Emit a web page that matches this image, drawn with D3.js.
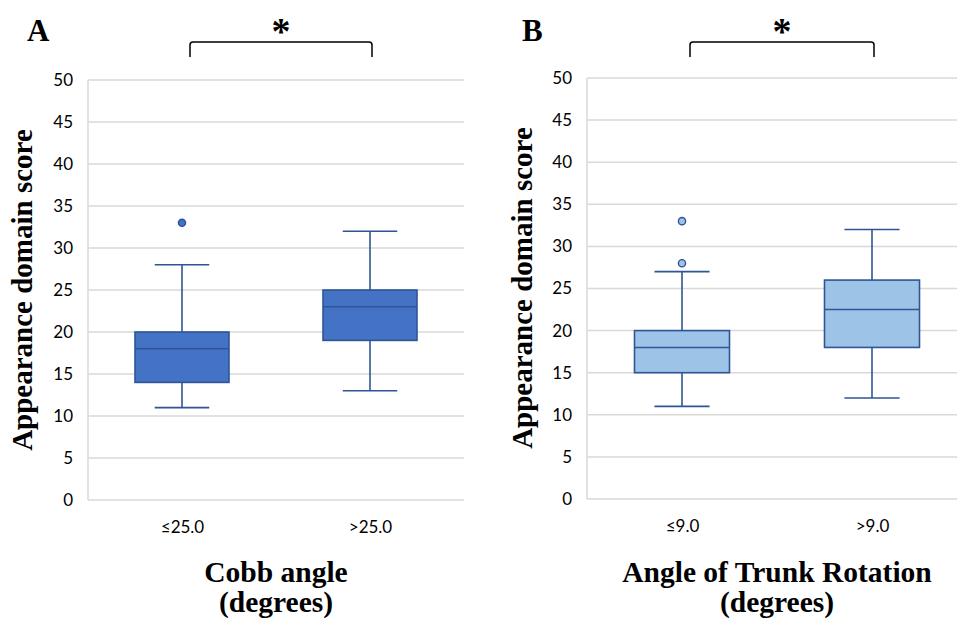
<!DOCTYPE html>
<html>
<head>
<meta charset="utf-8">
<script src="https://cdn.jsdelivr.net/npm/d3@7"></script>
<style>
  body { margin: 0; background: #fff; }
  svg { display: block; }
</style>
</head>
<body>
<div id="chart"></div>
<script>
"use strict";
// values: [min, q1, median, q3, max]
const categoriesA = ["≤25.0", ">25.0"];
const statsA = [[11, 14, 18, 20, 28], [13, 19, 23, 25, 32]];
const outliersA = [[33], []];
const categoriesB = ["≤9.0", ">9.0"];
const statsB = [[11, 15, 18, 20, 27], [12, 18, 22.5, 26, 32]];
const outliersB = [[28, 33], []];
const yTicks = [0, 5, 10, 15, 20, 25, 30, 35, 40, 45, 50];

const svgWidth = 957;
const svgHeight = 619;
const svg = d3.select("#chart")
    .append("svg")
    .attr("width", svgWidth)
    .attr("height", svgHeight);

const serif = "'Liberation Serif', 'Times New Roman', serif";
const sans = "Lato, 'Open Sans', sans-serif";

function drawPanel(opt) {
    const g = svg.append("g");
    const yScale = d3.scaleLinear().domain([0, 50]).range([opt.bottom, opt.top]);
    const xScale = d3.scalePoint().domain(opt.categories).range([opt.left, opt.right]).padding(0.5);
    const step = xScale.step();
    const boxW = step * 0.5;
    const capW = step * 0.145;

    // gridlines
    g.append("g")
        .selectAll("line")
        .data(yTicks)
        .enter()
        .append("line")
        .attr("x1", opt.left)
        .attr("x2", opt.right)
        .attr("y1", d => yScale(d))
        .attr("y2", d => yScale(d))
        .attr("stroke", "#d9d9d9")
        .attr("stroke-width", 1.5);
    g.append("line")
        .attr("x1", opt.left).attr("x2", opt.left)
        .attr("y1", yScale(0)).attr("y2", yScale(50))
        .attr("stroke", "#d9d9d9")
        .attr("stroke-width", 1.5);

    // y axis
    const yAxis = d3.axisLeft(yScale).tickValues(yTicks).tickSize(0).tickPadding(15);
    const ya = g.append("g")
        .attr("transform", `translate(${opt.left}, 0)`)
        .call(yAxis);
    ya.select(".domain").remove();
    ya.selectAll("text")
        .style("font-family", sans)
        .style("font-size", "17px")
        .attr("fill", "#000");

    // x axis labels
    const xAxis = d3.axisBottom(xScale).tickSize(0).tickPadding(21);
    const xa = g.append("g")
        .attr("transform", `translate(0, ${opt.bottom})`)
        .call(xAxis);
    xa.select(".domain").remove();
    xa.selectAll("text")
        .style("font-family", sans)
        .style("font-size", "17px")
        .attr("fill", "#000");

    // boxes
    const boxes = g.selectAll(".box")
        .data(opt.stats.map((s, i) => ({ cat: opt.categories[i], s: s, out: opt.outliers[i] })))
        .enter()
        .append("g")
        .attr("class", "box");
    boxes.append("line")
        .attr("x1", d => xScale(d.cat)).attr("x2", d => xScale(d.cat))
        .attr("y1", d => yScale(d.s[3])).attr("y2", d => yScale(d.s[4]))
        .attr("stroke", opt.stroke).attr("stroke-width", 1.6);
    boxes.append("line")
        .attr("x1", d => xScale(d.cat)).attr("x2", d => xScale(d.cat))
        .attr("y1", d => yScale(d.s[0])).attr("y2", d => yScale(d.s[1]))
        .attr("stroke", opt.stroke).attr("stroke-width", 1.6);
    [0, 4].forEach(k => {
        boxes.append("line")
            .attr("x1", d => xScale(d.cat) - capW).attr("x2", d => xScale(d.cat) + capW)
            .attr("y1", d => yScale(d.s[k])).attr("y2", d => yScale(d.s[k]))
            .attr("stroke", opt.stroke).attr("stroke-width", 1.6);
    });
    boxes.append("rect")
        .attr("x", d => xScale(d.cat) - boxW / 2)
        .attr("width", boxW)
        .attr("y", d => yScale(d.s[3]))
        .attr("height", d => yScale(d.s[1]) - yScale(d.s[3]))
        .attr("fill", opt.fill)
        .attr("stroke", opt.stroke)
        .attr("stroke-width", 1.6);
    boxes.append("line")
        .attr("x1", d => xScale(d.cat) - boxW / 2).attr("x2", d => xScale(d.cat) + boxW / 2)
        .attr("y1", d => yScale(d.s[2])).attr("y2", d => yScale(d.s[2]))
        .attr("stroke", opt.stroke).attr("stroke-width", 1.6);
    boxes.selectAll("circle")
        .data(d => d.out.map(v => ({ cat: d.cat, v: v })))
        .enter()
        .append("circle")
        .attr("cx", d => xScale(d.cat))
        .attr("cy", d => yScale(d.v))
        .attr("r", 3.6)
        .attr("fill", opt.fill)
        .attr("stroke", opt.stroke)
        .attr("stroke-width", 1.4);

    // y title
    g.append("text")
        .attr("transform", `translate(${opt.yTitleX}, ${opt.yTitleY}) rotate(-90)`)
        .attr("text-anchor", "middle")
        .style("font-family", serif)
        .style("font-weight", "bold")
        .style("font-size", "29px")
        .text("Appearance domain score");

    // x title
    const xt = g.append("text")
        .attr("x", (opt.left + opt.right) / 2)
        .attr("y", 582)
        .attr("text-anchor", "middle")
        .style("font-family", serif)
        .style("font-weight", "bold")
        .style("font-size", "29.5px");
    xt.append("tspan").attr("x", (opt.left + opt.right) / 2).text(opt.xTitle);
    xt.append("tspan").attr("x", (opt.left + opt.right) / 2).attr("dy", 30).text("(degrees)");

    // panel letter
    g.append("text")
        .attr("x", opt.letterX)
        .attr("y", 41)
        .style("font-family", serif)
        .style("font-weight", "bold")
        .style("font-size", "31px")
        .text(opt.letter);

    // significance bracket
    const bx1 = xScale(opt.categories[0]) + 8;
    const bx2 = xScale(opt.categories[1]) + 2;
    g.append("path")
        .attr("d", `M${bx1},57 V45 Q${bx1},42 ${bx1 + 3},42 H${bx2 - 3} Q${bx2},42 ${bx2},45 V57`)
        .attr("fill", "none")
        .attr("stroke", "#000")
        .attr("stroke-width", 1.5);
    g.append("text")
        .attr("x", (bx1 + bx2) / 2)
        .attr("y", 44)
        .attr("text-anchor", "middle")
        .style("font-family", serif)
        .style("font-weight", "bold")
        .style("font-size", "38px")
        .text("*");
}

drawPanel({
    categories: categoriesA, stats: statsA, outliers: outliersA,
    left: 88, right: 464, top: 80, bottom: 500,
    fill: "#4472c4", stroke: "#2f5597",
    xTitle: "Cobb angle", letter: "A", letterX: 27, yTitleX: 32, yTitleY: 290
});
drawPanel({
    categories: categoriesB, stats: statsB, outliers: outliersB,
    left: 587, right: 967, top: 78, bottom: 499,
    fill: "#9dc3e6", stroke: "#2f5597",
    xTitle: "Angle of Trunk Rotation", letter: "B", letterX: 522, yTitleX: 532, yTitleY: 288
});
</script>
</body>
</html>
